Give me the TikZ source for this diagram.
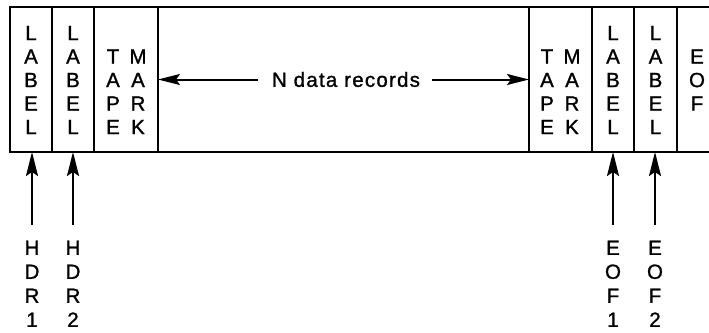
\documentclass[tikz,border=0pt]{standalone}
\usepackage{fontspec}
\setmainfont[FakeBold=1.2]{Liberation Sans}
\usetikzlibrary{arrows.meta}
\begin{document}
\begin{tikzpicture}[x=1pt,y=-1pt,
  cell/.style={draw, line width=2.2pt, minimum height=145pt, inner sep=0pt, outer sep=0pt},
  frame/.style={line width=2.2pt},
  letters/.style={align=center, inner sep=0pt, anchor=north, font=\fontsize{20.5}{23.5}\selectfont},
  tags/.style={align=center, inner sep=0pt, anchor=north, font=\fontsize{20.5}{24}\selectfont},
  harrow/.style={line width=2pt, -{Stealth[length=22pt,width=11pt,inset=4pt]}},
  varrow/.style={line width=2pt, -{Stealth[length=24pt,width=12pt,inset=4pt]}},
]
\useasboundingbox (0,0) rectangle (709,332);
% cells
\node[cell, minimum width=42pt] (c1) at (31,79.5) {};
\node[cell, minimum width=42pt] (c2) at (73,79.5) {};
\node[cell, minimum width=64pt] (c3) at (126,79.5) {};
\node[cell, minimum width=371pt] (recs) at (343.5,79.5) {};
\node[cell, minimum width=63pt] (c5) at (560.5,79.5) {};
\node[cell, minimum width=42pt] (c6) at (613,79.5) {};
\node[cell, minimum width=43pt] (c7) at (655.5,79.5) {};
\draw[frame] (c7.north east) -- ++(34,0);
\draw[frame] (c7.south east) -- ++(34,0);
% cell texts
\node[letters] (l1) at (31,25.8) {L\\A\\B\\E\\L};
\node[letters] (l2) at (73,25.8) {L\\A\\B\\E\\L};
\node[letters] (t1) at (113,49.3) {T\\A\\P\\E};
\node[letters] (m1) at (138,49.3) {M\\A\\R\\K};
\node[letters] (t2) at (547,49.3) {T\\A\\P\\E};
\node[letters] (m2) at (572,49.3) {M\\A\\R\\K};
\node[letters] (l3) at (613,25.8) {L\\A\\B\\E\\L};
\node[letters] (l4) at (655.5,25.8) {L\\A\\B\\E\\L};
\node[letters] (eof) at (697,49.3) {E\\O\\F};
% N data records
\node[inner sep=0pt, font=\fontsize{20.5}{23}\selectfont\addfontfeature{LetterSpace=6}] (ndr) at (346,79.5) {N data records};
\draw[harrow] ([xshift=-14pt]ndr.west) -- (ndr.west -| recs.west);
\draw[harrow] ([xshift=12pt]ndr.east) -- (ndr.east -| recs.east);
% bottom labels
\node[tags] (h1) at (32,240.5) {H\\D\\R\\1};
\node[tags] (h2) at (73,240.5) {H\\D\\R\\2};
\node[tags] (e1) at (613,240.5) {E\\O\\F\\1};
\node[tags] (e2) at (655,240.5) {E\\O\\F\\2};
\draw[varrow] ([yshift=16pt]h1.north) -- (h1.north |- c1.south);
\draw[varrow] ([yshift=16pt]h2.north) -- (h2.north |- c2.south);
\draw[varrow] ([yshift=16pt]e1.north) -- (e1.north |- c6.south);
\draw[varrow] ([yshift=16pt]e2.north) -- (e2.north |- c7.south);
\end{tikzpicture}
\end{document}
